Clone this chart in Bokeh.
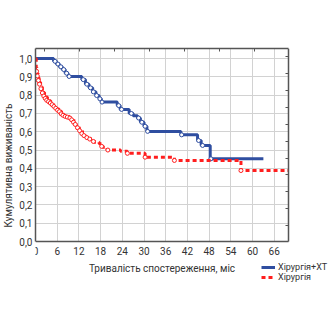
from bokeh.plotting import figure
from bokeh.models import (FixedTicker, LinearAxis, CustomJSTickFormatter, Legend,
                          LegendItem, Range1d, Grid)
from bokeh.embed import file_html
from bokeh.resources import INLINE

# ---- tick values ----
x_ticks = [0, 6, 12, 18, 24, 30, 36, 42, 48, 54, 60, 66]
y_ticks = [0.0, 0.1, 0.2, 0.3, 0.4, 0.5, 0.6, 0.7, 0.8, 0.9, 1.0]
top_ticks = [2.4, 12.1, 21.8, 31.4, 41.1, 50.8, 60.5]
right_ticks = [0.087, 0.179, 0.272, 0.364, 0.456, 0.548, 0.641, 0.733, 0.825, 0.918, 1.010]
x_lim = (0, 70)
y_lim = (0, 1.055)

# ---- series: Хірургія+ХТ (step points) ----
blue_t = [0, 5.0, 5.8, 6.6, 7.4, 8.2, 9.0, 12.8, 13.8, 14.8, 15.8, 16.7, 17.6, 18.2,
          22.6, 23.4, 25.9, 27.0, 28.2, 29.0, 30.0, 30.8, 40.2, 44.8, 45.8, 48.3, 63.0]
blue_s = [1.0, 0.985, 0.970, 0.955, 0.940, 0.920, 0.902, 0.885, 0.860, 0.840, 0.818, 0.798,
          0.780, 0.762, 0.743, 0.722, 0.700, 0.688, 0.675, 0.652, 0.630, 0.602, 0.583,
          0.552, 0.525, 0.452, 0.452]
blue_cens_t = [5.4, 6.2, 7.0, 7.8, 8.6, 9.3, 13.2, 14.2, 15.2, 16.0, 16.9, 17.8, 18.4,
               23.0, 23.8, 26.5, 28.5, 29.4, 30.3, 31.0, 40.4, 45.1, 46.2, 48.5]
blue_cens_s = [0.985, 0.970, 0.955, 0.940, 0.920, 0.902, 0.885, 0.860, 0.840, 0.818,
               0.798, 0.780, 0.762, 0.743, 0.722, 0.700, 0.675, 0.652, 0.630, 0.602,
               0.583, 0.552, 0.525, 0.452]

# ---- series: Хірургія (step points) ----
red_t = [0, 0.2, 0.4, 0.7, 1.0, 1.4, 1.9, 2.5, 3.3, 4.2, 5.0, 5.8, 6.5, 7.2, 7.9, 9.3,
         10.2, 11.1, 12.1, 13.0, 13.8, 14.8, 16.2, 17.6, 18.5, 19.8, 23.5, 25.4, 30.3,
         38.4, 56.8, 70.0]
red_s = [1.0, 0.95, 0.92, 0.895, 0.87, 0.845, 0.815, 0.79, 0.77, 0.755, 0.74, 0.725,
         0.712, 0.695, 0.685, 0.676, 0.66, 0.636, 0.608, 0.585, 0.572, 0.56, 0.543, 0.535,
         0.515, 0.50, 0.493, 0.482, 0.461, 0.443, 0.388, 0.388]
red_cens_t = [0.3, 0.5, 0.8, 1.1, 1.5, 1.9, 2.3, 2.7, 3.1, 3.6, 4.1, 4.6, 5.1, 5.6, 6.1,
              6.6, 7.1, 7.6, 8.2, 8.8, 9.5, 10.0, 10.5, 11.0, 11.6, 12.2, 12.8, 13.4,
              14.2, 15.0, 16.0, 18.3, 20.0, 25.4, 30.3, 38.4, 56.8]
red_cens_s = [0.93, 0.905, 0.88, 0.86, 0.835, 0.812, 0.795, 0.782, 0.772, 0.765, 0.757,
              0.748, 0.738, 0.728, 0.718, 0.71, 0.698, 0.69, 0.684, 0.68, 0.675, 0.665,
              0.652, 0.64, 0.622, 0.606, 0.59, 0.579, 0.568, 0.56, 0.547, 0.52, 0.50,
              0.482, 0.461, 0.443, 0.388]

BLUE = "#2f4ea0"
RED = "#ff1e1e"
TXT = "#333333"
AX = "#555555"
FONT = "Roboto"

# the frame also holds the legend strip below/right of the plot box;
# plot box = x 0..70, y 0..1.055 (183 px per unit of y, ~3.617 px per month)
p = figure(frame_width=293, frame_height=234, x_range=Range1d(0, 81.0),
           y_range=Range1d(-0.224, 1.055),
           output_backend="svg", toolbar_location=None,
           min_border_left=35, min_border_right=2, min_border_top=48, min_border_bottom=48,
           x_axis_label="Тривалість спостереження, міс", y_axis_label="Кумулятивна виживаність")
p.background_fill_color = "white"
p.border_fill_color = "white"
p.outline_line_color = None

p.xaxis.ticker = FixedTicker(ticks=x_ticks)
p.yaxis.ticker = FixedTicker(ticks=y_ticks)
p.yaxis.formatter = CustomJSTickFormatter(code="return tick.toFixed(1).replace('.', ',');")
p.xaxis.fixed_location = 0
p.xaxis.bounds = x_lim
p.yaxis.bounds = y_lim
for ax in (p.xaxis[0], p.yaxis[0]):
    ax.major_tick_in = 0
    ax.major_tick_out = 0
    ax.minor_tick_line_color = None
    ax.axis_line_color = AX
    ax.axis_line_width = 1.5
    ax.major_label_text_font = FONT
    ax.major_label_text_font_size = "10px"
    ax.major_label_text_color = TXT
    ax.axis_label_text_font = FONT
    ax.axis_label_text_font_size = "10px"
    ax.axis_label_text_font_style = "normal"
    ax.axis_label_text_color = TXT
p.yaxis.major_label_standoff = 3
p.yaxis.axis_label_standoff = 2
p.xaxis.major_label_standoff = 5
p.xaxis.axis_label_standoff = 5

p.xgrid.ticker = FixedTicker(ticks=x_ticks)
p.ygrid.ticker = FixedTicker(ticks=y_ticks)
grid_color = "#d2d2d2"
if "cross_bounds" in Grid.properties():
    p.xgrid.cross_bounds = y_lim
    p.ygrid.cross_bounds = x_lim
    p.xgrid.bounds = x_lim
    p.ygrid.bounds = y_lim
    p.grid.grid_line_color = grid_color
    p.grid.grid_line_width = 1
else:
    p.grid.grid_line_color = None
    p.segment(x0=x_ticks[1:], y0=[y_lim[0]] * 11, x1=x_ticks[1:], y1=[y_lim[1]] * 11,
              line_color=grid_color, line_width=1, level="underlay")
    p.segment(x0=[x_lim[0]] * 10, y0=y_ticks[1:], x1=[x_lim[1]] * 10, y1=y_ticks[1:],
              line_color=grid_color, line_width=1, level="underlay")

empty = CustomJSTickFormatter(code="return '';")
top_ax = LinearAxis(ticker=FixedTicker(ticks=top_ticks), formatter=empty, bounds=x_lim,
                    major_tick_in=3, major_tick_out=0, minor_tick_line_color=None,
                    axis_line_color=AX, axis_line_width=1.5, major_tick_line_color=AX,
                    major_label_standoff=0, major_label_text_font_size="0px")
right_ax = LinearAxis(ticker=FixedTicker(ticks=right_ticks), formatter=empty, bounds=y_lim,
                      fixed_location=x_lim[1],
                      major_tick_in=3, major_tick_out=0, minor_tick_line_color=None,
                      axis_line_color=AX, axis_line_width=1.5, major_tick_line_color=AX,
                      major_label_standoff=0, major_label_text_font_size="0px")
p.add_layout(top_ax, "above")
p.add_layout(right_ax, "right")

blue_line = p.step(blue_t, blue_s, mode="after", line_color=BLUE, line_width=3)
p.scatter(blue_cens_t, blue_cens_s, marker="circle", size=4, fill_color="white",
          line_color=BLUE, line_width=1)
red_line = p.step(red_t, red_s, mode="after", line_color=RED, line_width=3, line_dash="4 3")
p.scatter(red_cens_t, red_cens_s, marker="circle", size=4, fill_color="white",
          line_color=RED, line_width=1)

legend = Legend(items=[LegendItem(label="Хірургія+ХТ", renderers=[blue_line]),
                       LegendItem(label="Хірургія", renderers=[red_line])],
                location=(226, 0), orientation="vertical",
                background_fill_alpha=0, border_line_alpha=0, padding=0, margin=0,
                spacing=0, glyph_width=14, glyph_height=10, label_height=10,
                label_standoff=3, label_text_font=FONT, label_text_font_size="9px",
                label_text_color=TXT)
p.add_layout(legend)

open("out.html", "w").write(file_html(p, INLINE))
